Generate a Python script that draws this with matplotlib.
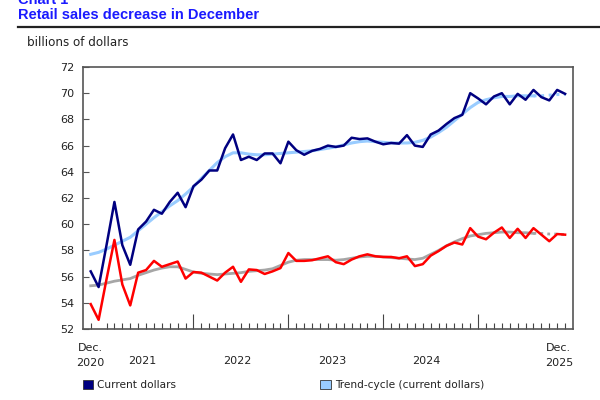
import numpy as np
import matplotlib
matplotlib.use("Agg")
import matplotlib.pyplot as plt
from matplotlib.patches import Patch
from matplotlib.lines import Line2D

# monthly data, Dec 2020 .. Dec 2025 (61 months)
current = [56.4, 55.2, 58.4, 61.7, 58.4, 56.9, 59.6, 60.2, 61.1, 60.8,
           61.7, 62.4, 61.3, 62.9, 63.4, 64.1, 64.1, 65.8, 66.85, 64.9,
           65.15, 64.9, 65.4, 65.4, 64.65, 66.3, 65.65, 65.3, 65.6, 65.75,
           66.0, 65.9, 66.0, 66.6, 66.5, 66.55, 66.3, 66.1, 66.2, 66.15,
           66.8, 66.0, 65.9, 66.85, 67.15, 67.65, 68.1, 68.35, 70.0, 69.6,
           69.15, 69.75, 70.0, 69.15, 69.95, 69.5, 70.25, 69.7, 69.45, 70.25,
           69.95]
trend_current = [57.7, 57.85, 58.1, 58.4, 58.7, 59.0, 59.5, 60.0, 60.5, 60.95,
                 61.4, 61.8, 62.3, 62.85, 63.5, 64.1, 64.7, 65.15, 65.45, 65.45,
                 65.35, 65.3, 65.3, 65.35, 65.4, 65.45, 65.5, 65.55, 65.6, 65.7,
                 65.8, 65.9, 66.05, 66.2, 66.3, 66.35, 66.3, 66.25, 66.2, 66.2,
                 66.2, 66.25, 66.4, 66.65, 67.0, 67.4, 67.9, 68.4, 68.9, 69.3,
                 69.5, 69.65, 69.75, 69.75, 69.8, 69.8, 69.8, 69.8, 69.85, 69.9,
                 69.9]
constant = [53.9, 52.7, 55.8, 58.8, 55.4, 53.8, 56.3, 56.5, 57.2, 56.75,
            56.95, 57.15, 55.85, 56.35, 56.3, 56.0, 55.7, 56.3, 56.75, 55.6,
            56.55, 56.5, 56.2, 56.4, 56.65, 57.8, 57.2, 57.2, 57.25, 57.4,
            57.55, 57.1, 56.95, 57.3, 57.55, 57.7, 57.55, 57.5, 57.5, 57.4,
            57.55, 56.8, 56.95, 57.6, 57.95, 58.35, 58.6, 58.45, 59.7, 59.05,
            58.85, 59.35, 59.75, 58.95, 59.65, 58.95, 59.7, 59.2, 58.7, 59.25,
            59.2]
trend_constant = [55.3, 55.35, 55.5, 55.65, 55.75, 55.85, 56.1, 56.3, 56.5, 56.65,
                  56.75, 56.75, 56.55, 56.35, 56.25, 56.2, 56.15, 56.2, 56.25, 56.3,
                  56.4, 56.45, 56.5, 56.6, 56.85, 57.1, 57.25, 57.3, 57.3, 57.3,
                  57.3, 57.25, 57.3, 57.4, 57.5, 57.55, 57.55, 57.5, 57.45, 57.4,
                  57.35, 57.3, 57.4, 57.7, 58.0, 58.35, 58.65, 58.9, 59.1, 59.2,
                  59.3, 59.35, 59.4, 59.4, 59.35, 59.35, 59.3, 59.3, 59.25, 59.25,
                  59.2]
year_labels = ["2021", "2022", "2023", "2024"]
n_dotted = 4  # last months of trend-cycle drawn dotted

x = np.arange(len(current))
cut = len(x) - n_dotted - 1

c_dark = "#000080"
c_light = "#99ccff"
c_red = "#ff0000"
c_gray = "#a6a6a6"

fig = plt.figure(figsize=(6, 4), dpi=100)
ax = fig.add_axes([0.138, 0.1775, 0.817, 0.655])

# trend-cycles: solid, then dotted for the last months
ax.plot(x[:cut + 1], trend_current[:cut + 1], color=c_light, lw=2.2, zorder=2)
ax.plot(x[cut:], trend_current[cut:], color=c_light, lw=2.2, ls=(0, (1, 1.5)), zorder=2)
ax.plot(x[:cut + 1], trend_constant[:cut + 1], color=c_gray, lw=2.0, zorder=2)
ax.plot(x[cut:], trend_constant[cut:], color=c_gray, lw=2.0, ls=(0, (1, 1.5)), zorder=2)

ax.plot(x, current, color=c_dark, lw=1.8, zorder=3)
ax.plot(x, constant, color=c_red, lw=1.8, zorder=3)

ax.set_xlim(-1, 61)
ax.set_ylim(52, 72)
ax.set_yticks(np.arange(52, 73, 2))
ax.tick_params(axis="y", direction="in", length=4, width=0.8, color="#555555",
               labelsize=8, pad=6, labelcolor="#222222")

# month ticks, Januaries are major
ax.set_xticks([m for m in x if m % 12 != 1], minor=True)
ax.set_xticks([m for m in x if m % 12 == 1 and m > 1])
ax.set_xticklabels([])
ax.tick_params(axis="x", which="minor", direction="in", length=4, width=0.8, color="#444444")
ax.tick_params(axis="x", which="major", direction="in", length=11, width=0.8, color="#444444")
for s in ax.spines.values():
    s.set_color("#555555")
    s.set_linewidth(1.2)

lab_kw = dict(fontsize=8, color="#222222", ha="center", va="top")
trans = ax.get_xaxis_transform()
ax.text(0, -0.055, "Dec.\n2020", transform=trans, linespacing=1.6, **lab_kw)
ax.text(59.2, -0.055, "Dec.\n2025", transform=trans, linespacing=1.6, **lab_kw)
for i, yl in enumerate(year_labels):
    ax.text(6.5 + 12 * i, -0.103, yl, transform=trans, **lab_kw)

# title block (first line is cut by the top edge, as in the source image)
fig.text(0.03, 0.99, "Chart 1", fontsize=10.5, fontweight="bold",
         color="#1a1aff", family="Liberation Sans", va="baseline")
fig.text(0.03, 0.9625, "Retail sales decrease in December", fontsize=10.5,
         fontweight="bold", color="#1a1aff", family="Liberation Sans", va="center")
fig.add_artist(Line2D([0.03, 1.0], [0.932, 0.932], color="#222222", lw=1.6))
fig.text(0.045, 0.893, "billions of dollars", fontsize=8.6, color="#222222", va="center")

handles = [Patch(facecolor=c_dark, edgecolor="#333333", lw=0.6),
           Patch(facecolor=c_light, edgecolor="#333333", lw=0.6)]
fig.legend(handles, ["Current dollars", "Trend-cycle (current dollars)"],
           loc="center left", bbox_to_anchor=(0.122, 0.037), ncol=2, frameon=False,
           fontsize=7.6, handlelength=1.0, handleheight=1.0, handletextpad=0.4,
           columnspacing=13.6, labelcolor="#222222")

fig.savefig("out.png", dpi=100)
